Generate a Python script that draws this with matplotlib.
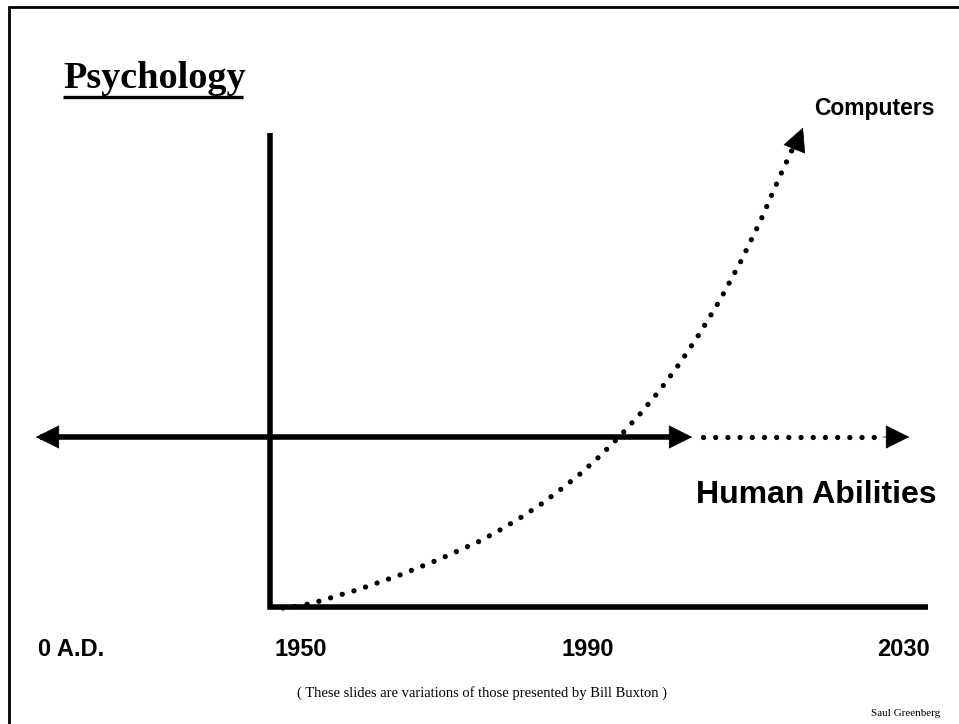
import matplotlib.pyplot as plt

# diagram laid out in a 959 x 724 canvas (y grows downward)
tick_labels = ['0 A.D.', '1950', '1990', '2030']
tick_x = [71, 301, 588, 904]

# dotted "Computers" curve
curve_x = [283, 300, 320, 340, 360, 380, 400, 420, 440, 460, 480, 500, 520, 540,
           560, 580, 600, 620, 640, 660, 680, 700, 720, 740, 760, 780, 792]
curve_y = [608, 606, 601, 595, 589, 582, 575, 567, 559, 550, 541, 530, 518, 505,
           490, 474, 456, 436, 414, 390, 363, 333, 300, 263, 222, 176, 150]

# human abilities: solid then dotted
human_solid_x = [40, 680]
human_dot_x = [703, 882]
human_y = 437

fig = plt.figure(figsize=(9.59, 7.24), dpi=100)
ax = fig.add_axes([0, 0, 1, 1])
ax.set_xlim(0, 959)
ax.set_ylim(724, 0)
ax.axis('off')

# slide frame (only top/left visible)
ax.plot([9, 9, 959], [724, 7, 7], color='black', lw=2.0, solid_joinstyle='miter')

# axes of the diagram
ax.plot([270, 270, 928], [133, 607, 607], color='black', lw=4.0,
        solid_joinstyle='miter', solid_capstyle='butt')

arrow = dict(arrowstyle='-|>', color='black', lw=0.5, mutation_scale=40)

# human abilities arrow
ax.plot(human_solid_x, [human_y, human_y], color='black', lw=4.0, solid_capstyle='butt')
ax.annotate('', xy=(33, human_y), xytext=(70, human_y), arrowprops=arrow)
ax.annotate('', xy=(695, human_y), xytext=(660, human_y), arrowprops=arrow)
ax.plot(human_dot_x, [human_y, human_y], color='black', lw=3.8,
        linestyle=(0, (0.01, 2.3)), dash_capstyle='round')
ax.annotate('', xy=(912, human_y), xytext=(880, human_y), arrowprops=arrow)

# computers curve
ax.plot(curve_x, curve_y, color='black', lw=3.8,
        linestyle=(0, (0.01, 2.3)), dash_capstyle='round')
ax.annotate('', xy=(804, 125), xytext=(792, 155), arrowprops=arrow)

# texts
ax.text(63, 88, 'Psychology', fontsize=27.5, fontweight='bold', family='Liberation Serif',
        ha='left', va='baseline')
ax.plot([63, 243], [96.5, 96.5], color='black', lw=2.4, solid_capstyle='butt')
ax.text(935, 108, 'Computers', fontsize=16.5, fontweight='bold', family='Liberation Sans',
        ha='right', va='center')
ax.text(937, 495, 'Human Abilities', fontsize=23, fontweight='bold', family='Liberation Sans',
        ha='right', va='center')
for lab, x in zip(tick_labels, tick_x):
    ax.text(x, 650, lab, fontsize=17, fontweight='bold', family='Liberation Sans',
            ha='center', va='center')
ax.text(482, 693, '( These slides are variations of those presented by Bill Buxton )',
        fontsize=10.5, family='Liberation Serif', ha='center', va='center')
ax.text(940, 714, 'Saul Greenberg', fontsize=8, family='Liberation Serif',
        ha='right', va='center')

fig.savefig('out.png', dpi=100)
